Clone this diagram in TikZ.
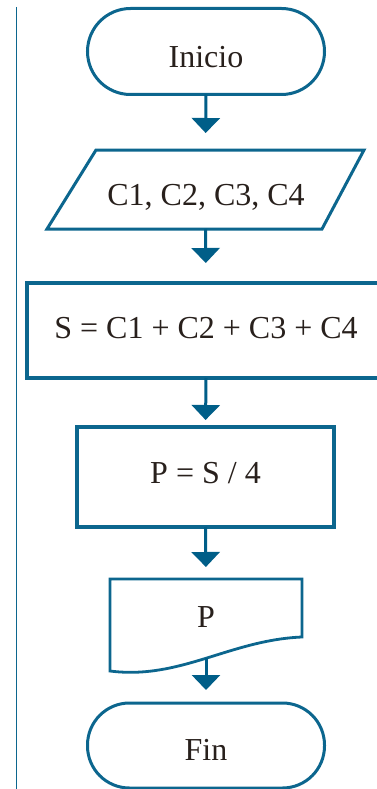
\documentclass[tikz,border=0pt]{standalone}
\usepackage{fontspec}
\setmainfont{Liberation Serif}
\usetikzlibrary{arrows.meta}
\definecolor{flow}{RGB}{12,102,142}
\definecolor{tip}{RGB}{0,94,136}
\definecolor{ink}{RGB}{40,32,28}
\tikzset{
  shapebox/.style={draw=none, inner sep=0pt, outer sep=0pt, rectangle},
  outline/.style={draw=flow, line width=3pt, line join=miter},
  txt/.style={anchor=base, inner sep=0pt, text=ink, font=\fontsize{32}{36}\selectfont},
  flowarrow/.style={draw=flow, line width=3pt, -{Triangle[width=28pt,length=15pt]}, tip},
}
\begin{document}
\begin{tikzpicture}[x=1pt,y=-1pt]
\useasboundingbox (0,0) rectangle (377,789);
\clip (0,0) rectangle (377,789);
% left rule
\draw[flow, line width=1.5pt] (16.7,7) -- (16.7,789);
% shapes
\node[shapebox, outline, rounded corners=43pt, minimum width=237pt, minimum height=86pt] (start) at (206,51.5) {};
\node[shapebox, minimum width=317pt, minimum height=79pt] (io) at (205.5,189.5) {};
\draw[outline] (96,150) -- (364,150) -- (322,229) -- (47,229) -- cycle;
\node[shapebox, outline, line width=3.4pt, minimum width=358pt, minimum height=95pt] (sum) at (206,330.5) {};
\node[shapebox, outline, line width=3.2pt, minimum width=257pt, minimum height=100pt] (avg) at (205.5,477) {};
\node[shapebox, minimum width=192pt, minimum height=92pt] (out) at (206,625) {};
\draw[outline, line width=2.8pt] (110,671) -- (110,579) -- (302,579) -- (302,637) .. controls (230,640) and (180,680) .. (110,671) -- cycle;
\coordinate (outbot) at (206,658);
\node[shapebox, outline, rounded corners=42pt, minimum width=237pt, minimum height=85pt] (end) at (206,745.5) {};
% texts
\node[txt] (t1) at (206,68) {Inicio};
\node[txt] (t2) at (206,205) {C1, C2, C3, C4};
\node[txt] (t3) at (206,338) {S = C1 + C2 + C3 + C4};
\node[txt] (t4) at (205.5,483) {P = S / 4};
\node[txt] (t5) at (206,627) {P};
\node[txt] (t6) at (206,760) {Fin};
% arrows
\draw[flowarrow, shorten >=17pt] (start.south) -- (io.north);
\draw[flowarrow, shorten >=20pt] (io.south) -- (sum.north);
\draw[flowarrow, shorten >=7pt] (sum.south) -- (avg.north);
\draw[flowarrow, shorten >=12pt] (avg.south) -- (out.north);
\draw[flowarrow, shorten >=13pt] (outbot) -- (end.north);
\end{tikzpicture}
\end{document}
